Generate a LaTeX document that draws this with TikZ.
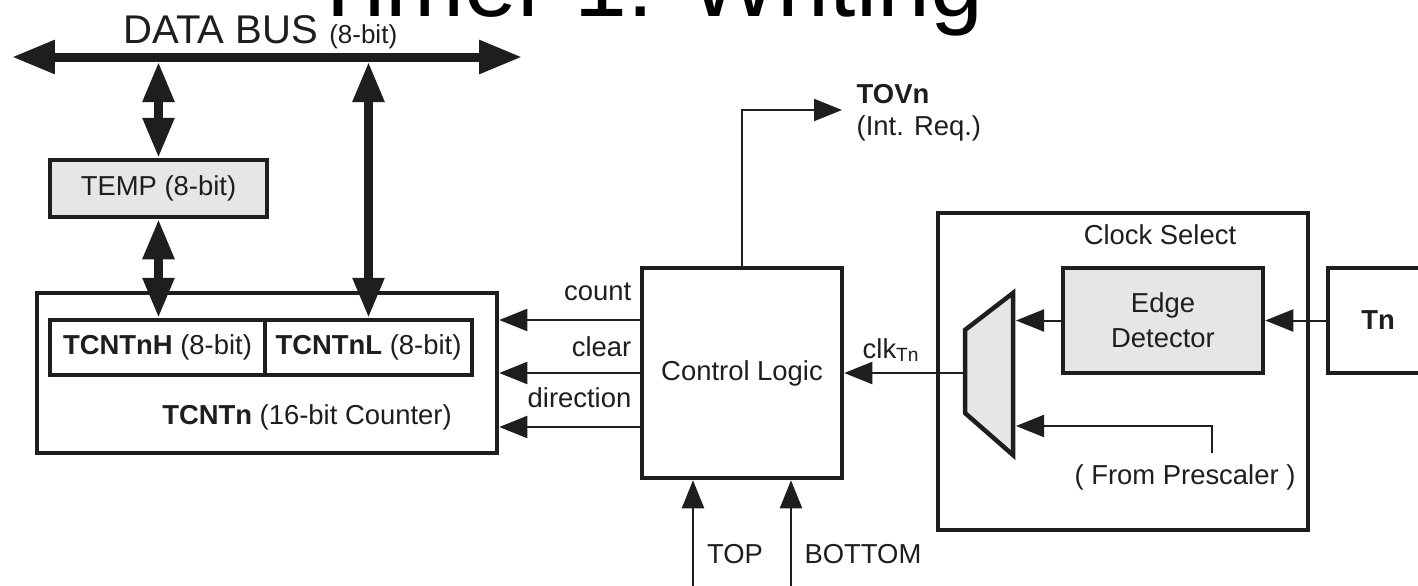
\documentclass[tikz,border=0pt]{standalone}
\usepackage{fontspec}
\setmainfont{Liberation Sans}
\usetikzlibrary{arrows.meta}
\newcommand\dfont{\fontsize{7.8}{10}\selectfont}
\definecolor{boxgray}{HTML}{E6E6E6}
\definecolor{ink}{HTML}{1E1E1E}
\begin{document}
\begin{tikzpicture}[x=0.1mm,y=-0.1mm,
  box/.style={draw=ink, line width=0.45mm, inner sep=0pt, font=\dfont, text=ink},
  thin/.style={draw=ink, line width=0.2mm},
  arr/.style={thin, -{Triangle[length=2.8mm,width=2.2mm]}},
  bus/.style={draw=ink, line width=0.9mm, {Triangle[length=4.3mm,width=3.2mm]}-{Triangle[length=4.3mm,width=3.2mm]}},
  link/.style={draw=ink, line width=0.85mm, {Triangle[length=4mm,width=3mm]}-{Triangle[length=4mm,width=3mm]}},
  lbl/.style={font=\dfont, text=ink, inner sep=0pt}]
\useasboundingbox (0,0) rectangle (1418,585);
\fill[white] (0,0) rectangle (1418,585);

% title (cut at the top)
\node[anchor=base west, inner sep=0pt] (title) at (309,16) {\fontsize{27}{30}\selectfont Timer 1: Writing};

% data bus
\coordinate (busL) at (12,57);
\coordinate (busR) at (522,57);
\draw[bus] (busL) -- (busR);
\node[anchor=base west, inner sep=0pt, text=ink] (dbus) at (123,43) {\fontsize{11.4}{13}\selectfont DATA BUS \fontsize{7.4}{9}\selectfont(8-bit)};

% registers
\node[box, fill=boxgray, minimum width=21.7mm, minimum height=5.7mm] (temp) at (158.5,188.5) {TEMP (8-bit)};
\node[box, minimum width=46mm, minimum height=16mm] (tcnt) at (267,373) {};
\node[lbl] (tcntlbl) at (307,417) {\textbf{TCNTn} (16-bit Counter)};
\node[box, minimum width=21.5mm, minimum height=5.5mm] (tcnth) at (157.5,347.5) {\textbf{TCNTnH} (8-bit)};
\node[box, minimum width=20.7mm, minimum height=5.5mm] (tcntl) at (368.5,347.5) {\textbf{TCNTnL} (8-bit)};

\coordinate (b1) at (158.5,62);
\coordinate (b2) at (368.5,62);
\draw[link] (b1) -- (temp.north);
\draw[link] (temp.south) -- (temp.south |- tcnth.north);
\draw[link] (b2) -- (tcntl.north);

% control logic
\node[box, minimum width=20mm, minimum height=21mm] (ctrl) at (742,373) {Control Logic};
\coordinate (tov) at (842,110);
\draw[arr] (ctrl.north) |- (tov);
\node[lbl, anchor=west, font=\dfont\bfseries] (tovlbl) at (856,94) {TOVn};
\node[lbl, anchor=west] (intreq) at (856,128) {(Int. Req.)};

\draw[arr] (ctrl.west |- 0,320) -- (tcnt.east |- 0,320);
\draw[arr] (ctrl.west) -- (tcnt.east);
\draw[arr] (ctrl.west |- 0,427) -- (tcnt.east |- 0,427);
\node[lbl, anchor=east] (cnt) at (632,292) {count};
\node[lbl, anchor=east] (clr) at (632,347) {clear};
\node[lbl, anchor=east] (dir) at (632,398) {direction};

\coordinate (topsrc) at (693,590);
\coordinate (botsrc) at (791,590);
\draw[arr] (topsrc) -- (topsrc |- ctrl.south);
\draw[arr] (botsrc) -- (botsrc |- ctrl.south);
\node[lbl] (toplbl) at (735,554) {TOP};
\node[lbl] (botlbl) at (863,554) {BOTTOM};

% clock select
\node[box, minimum width=37mm, minimum height=31.7mm] (clksel) at (1123,371.5) {};
\node[lbl] (clksellbl) at (1160,235) {Clock Select};
\node[box, fill=boxgray, minimum width=20mm, minimum height=10.5mm, align=center] (edge) at (1163,320.5) {Edge\\Detector};
\node[box, minimum width=10mm, minimum height=10.5mm, font=\dfont\bfseries] (tn) at (1378,320.5) {Tn};

\draw[draw=ink, line width=0.45mm, fill=boxgray, line join=miter] (1013,293) -- (1013,455) -- (965,413) -- (965,330) -- cycle;
\coordinate (muxout) at (965,373);
\coordinate (muxa) at (1016,320.5);
\coordinate (muxb) at (1016,426);
\coordinate (pres) at (1212,453);

\draw[arr] (edge.west) -- (muxa);
\draw[arr] (tn.west) -- (edge.east);
\draw[arr] (pres) |- (muxb);
\draw[arr] (muxout) -- (ctrl.east);
\node[lbl, anchor=west] (clk) at (862,350) {clk\textsubscript{Tn}};
\node[lbl] (pre) at (1185,477) {( From Prescaler )};
\end{tikzpicture}
\end{document}
